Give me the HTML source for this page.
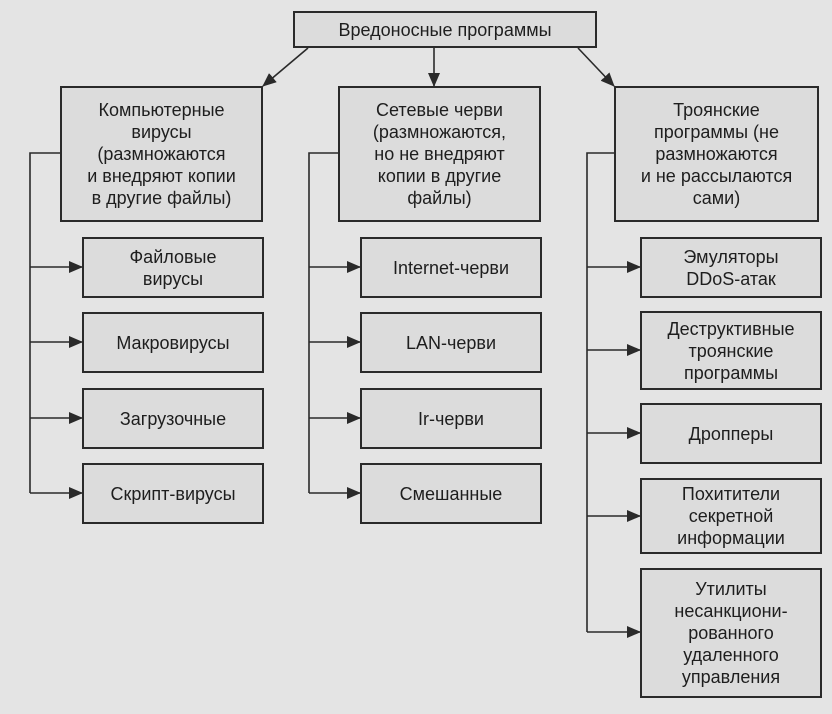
<!DOCTYPE html>
<html><head><meta charset="utf-8"><style>
body{margin:0;width:832px;height:714px;background:#e4e4e4;overflow:hidden;position:relative;font-family:"Liberation Sans",sans-serif;color:#1e1e1e}
.b{position:absolute;box-sizing:border-box;border:2px solid #2a2a2a;background:#dcdcdc;display:flex;align-items:center;justify-content:center;text-align:center;font-size:18px;line-height:22px}
svg{position:absolute;left:0;top:0}
</style></head><body>
<svg width="832" height="714">
<defs><marker id="a" markerWidth="10" markerHeight="10" refX="9" refY="5" orient="auto" markerUnits="userSpaceOnUse"><path d="M0,0 L10,5 L0,10z" fill="#2a2a2a"/></marker>
<marker id="h" markerWidth="14" markerHeight="12" refX="13" refY="6" orient="auto" markerUnits="userSpaceOnUse"><path d="M0,0 L14,6 L0,12z" fill="#2a2a2a"/></marker></defs>
<g stroke="#2a2a2a" stroke-width="1.6" fill="none">
<line x1="308" y1="48" x2="263" y2="86" marker-end="url(#h)"/>
<line x1="434" y1="48" x2="434" y2="86" marker-end="url(#h)"/>
<line x1="578" y1="48" x2="614" y2="86" marker-end="url(#h)"/>
<polyline points="60,153 30,153 30,493"/>
<polyline points="338,153 309,153 309,493"/>
<polyline points="614,153 587,153 587,632"/>
<line x1="30" y1="267" x2="82" y2="267" marker-end="url(#h)"/>
<line x1="30" y1="342" x2="82" y2="342" marker-end="url(#h)"/>
<line x1="30" y1="418" x2="82" y2="418" marker-end="url(#h)"/>
<line x1="30" y1="493" x2="82" y2="493" marker-end="url(#h)"/>
<line x1="309" y1="267" x2="360" y2="267" marker-end="url(#h)"/>
<line x1="309" y1="342" x2="360" y2="342" marker-end="url(#h)"/>
<line x1="309" y1="418" x2="360" y2="418" marker-end="url(#h)"/>
<line x1="309" y1="493" x2="360" y2="493" marker-end="url(#h)"/>
<line x1="587" y1="267" x2="640" y2="267" marker-end="url(#h)"/>
<line x1="587" y1="350" x2="640" y2="350" marker-end="url(#h)"/>
<line x1="587" y1="433" x2="640" y2="433" marker-end="url(#h)"/>
<line x1="587" y1="516" x2="640" y2="516" marker-end="url(#h)"/>
<line x1="587" y1="632" x2="640" y2="632" marker-end="url(#h)"/>
</g></svg>
<div class="b" style="left:293px;top:11px;width:304px;height:37px">Вредоносные программы</div>
<div class="b" style="left:60px;top:86px;width:203px;height:136px">Компьютерные<br>вирусы<br>(размножаются<br>и внедряют копии<br>в другие файлы)</div>
<div class="b" style="left:338px;top:86px;width:203px;height:136px">Сетевые черви<br>(размножаются,<br>но не внедряют<br>копии в другие<br>файлы)</div>
<div class="b" style="left:614px;top:86px;width:205px;height:136px">Троянские<br>программы (не<br>размножаются<br>и не рассылаются<br>сами)</div>
<div class="b" style="left:82px;top:237px;width:182px;height:61px">Файловые<br>вирусы</div>
<div class="b" style="left:82px;top:312px;width:182px;height:61px">Макровирусы</div>
<div class="b" style="left:82px;top:388px;width:182px;height:61px">Загрузочные</div>
<div class="b" style="left:82px;top:463px;width:182px;height:61px">Скрипт-вирусы</div>
<div class="b" style="left:360px;top:237px;width:182px;height:61px">Internet-черви</div>
<div class="b" style="left:360px;top:312px;width:182px;height:61px">LAN-черви</div>
<div class="b" style="left:360px;top:388px;width:182px;height:61px">Ir-черви</div>
<div class="b" style="left:360px;top:463px;width:182px;height:61px">Смешанные</div>
<div class="b" style="left:640px;top:237px;width:182px;height:61px">Эмуляторы<br>DDoS-атак</div>
<div class="b" style="left:640px;top:311px;width:182px;height:79px">Деструктивные<br>троянские<br>программы</div>
<div class="b" style="left:640px;top:403px;width:182px;height:61px">Дропперы</div>
<div class="b" style="left:640px;top:478px;width:182px;height:76px">Похитители<br>секретной<br>информации</div>
<div class="b" style="left:640px;top:568px;width:182px;height:130px">Утилиты<br>несанкциони-<br>рованного<br>удаленного<br>управления</div>
</body></html>
